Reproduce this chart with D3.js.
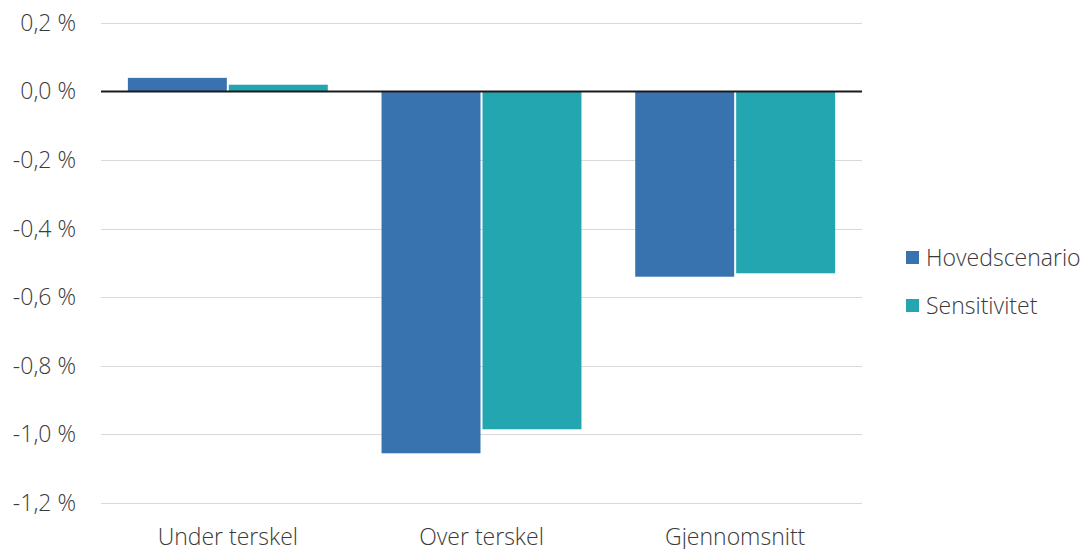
<!DOCTYPE html>
<html>
<head>
<meta charset="utf-8">
<script src="https://cdn.jsdelivr.net/npm/d3@7"></script>
<style>
  html, body { margin: 0; padding: 0; background: #fff; }
  svg { display: block; font-family: "Open Sans", "Lato", sans-serif; font-weight: 300; }
</style>
</head>
<body>
<svg id="chart" width="1088" height="549"></svg>
<script>
// Categories and series
const categories = ["Under terskel", "Over terskel", "Gjennomsnitt"];
const seriesNames = ["Hovedscenario", "Sensitivitet"];
const hovedscenario = [0.04, -1.055, -0.54];
const sensitivitet = [0.02, -0.985, -0.53];
const yTicks = [0.2, 0.0, -0.2, -0.4, -0.6, -0.8, -1.0, -1.2];
const colors = ["#3873b0", "#23a6b0"];

const seriesValues = [hovedscenario, sensitivitet];
const rows = categories.map((c, i) => ({
  category: c,
  values: seriesNames.map((s, j) => ({ series: s, value: seriesValues[j][i] }))
}));

const FONT = "'Open Sans', sans-serif";
const FONT_SIZE = 23;
const TEXT_COLOR = "#3a3a3a";

const svg = d3.select("#chart");
const plot = { left: 101, right: 862, top: 23, bottom: 503 };

const y = d3.scaleLinear().domain([-1.2, 0.2]).range([plot.bottom, plot.top]);
const x0 = d3.scaleBand().domain(categories).range([plot.left, plot.right]).paddingInner(0.204).paddingOuter(0.102);
const x1 = d3.scaleBand().domain(seriesNames).range([0, x0.bandwidth()]).padding(0);
const color = d3.scaleOrdinal().domain(seriesNames).range(colors);

const fmt = v => d3.format(".1f")(v).replace(".", ",").replace("−", "-") + " %";

// Gridlines
svg.append("g")
  .selectAll("line")
  .data(yTicks.filter(t => t !== 0))
  .join("line")
  .attr("x1", plot.left).attr("x2", plot.right)
  .attr("y1", d => Math.round(y(d)) + 0.5).attr("y2", d => Math.round(y(d)) + 0.5)
  .attr("stroke", "#d9d9d9").attr("stroke-width", 1);

// Y axis labels
const yAxis = d3.axisLeft(y).tickValues(yTicks).tickFormat(fmt).tickSize(0).tickPadding(25);
const gy = svg.append("g").attr("transform", `translate(${plot.left},0)`).call(yAxis);
gy.select(".domain").remove();
gy.selectAll("text")
  .attr("font-family", FONT)
  .attr("font-weight", 300)
  .attr("font-size", FONT_SIZE)
  .attr("fill", TEXT_COLOR);

// Bars
svg.append("g")
  .selectAll("g")
  .data(rows)
  .join("g")
  .attr("transform", d => `translate(${x0(d.category)},0)`)
  .selectAll("rect")
  .data(d => d.values)
  .join("rect")
  .attr("x", d => x1(d.series) + 1)
  .attr("width", x1.bandwidth() - 2)
  .attr("y", d => y(Math.max(0, d.value)))
  .attr("height", d => Math.abs(y(d.value) - y(0)))
  .attr("fill", d => color(d.series));

// Zero line
svg.append("line")
  .attr("x1", plot.left).attr("x2", plot.right)
  .attr("y1", y(0)).attr("y2", y(0))
  .attr("stroke", "#1a1a1a").attr("stroke-width", 2);

// X axis labels
const xAxis = d3.axisBottom(x0).tickSize(0);
const gx = svg.append("g").attr("transform", `translate(0,${plot.bottom})`).call(xAxis);
gx.select(".domain").remove();
gx.selectAll("text")
  .attr("y", 42)
  .attr("dy", 0)
  .attr("font-family", FONT)
  .attr("font-weight", 300)
  .attr("font-size", FONT_SIZE)
  .attr("fill", TEXT_COLOR);

// Legend
const legend = svg.append("g").attr("transform", "translate(906,251)");
const li = legend.selectAll("g").data(seriesNames).join("g")
  .attr("transform", (d, i) => `translate(0,${i * 48})`);
li.append("rect").attr("width", 13).attr("height", 13).attr("fill", d => color(d));
li.append("text")
  .attr("x", 20).attr("y", 6.5).attr("dy", "0.35em")
  .attr("font-family", FONT)
  .attr("font-weight", 300)
  .attr("font-size", FONT_SIZE)
  .attr("fill", TEXT_COLOR)
  .text(d => d);
</script>
</body>
</html>
